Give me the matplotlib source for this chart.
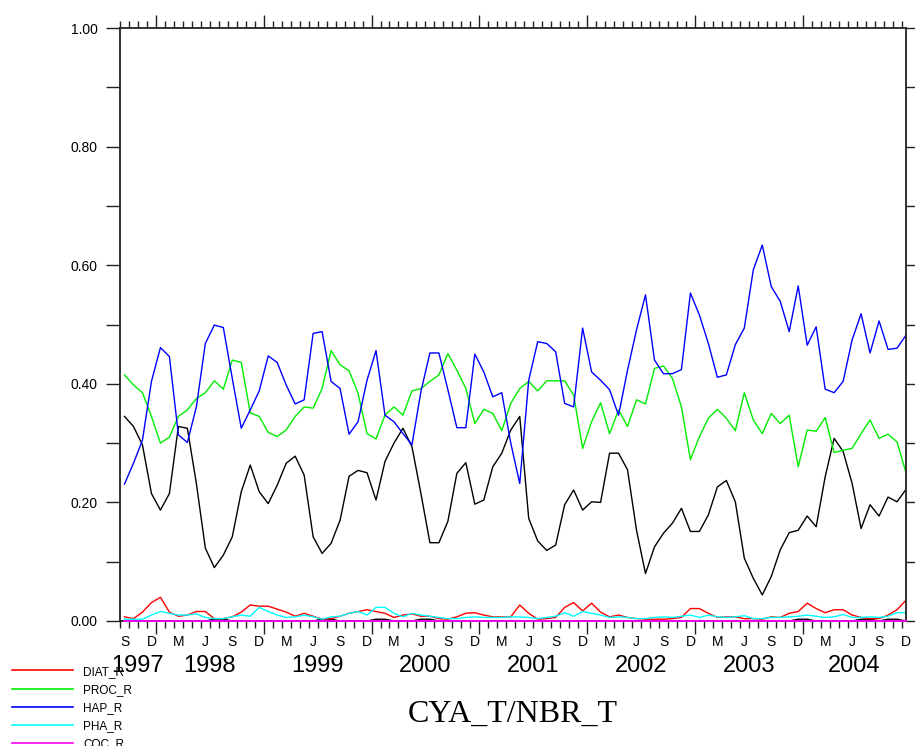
import matplotlib
matplotlib.use("Agg")
import matplotlib.pyplot as plt
from matplotlib.lines import Line2D
from matplotlib.ticker import FixedLocator, NullFormatter, FormatStrFormatter

# months: index 0 = Sep 1997 ... index 87 = Dec 2004 (monthly, mid-month)
month_letters = ["S", "D", "M", "J"]
years = ["1997", "1998", "1999", "2000", "2001", "2002", "2003", "2004"]

black_main = [0.345, 0.328, 0.297, 0.215, 0.187, 0.215, 0.328, 0.325, 0.232, 0.123,
              0.090, 0.111, 0.142, 0.218, 0.263, 0.218, 0.198, 0.229, 0.266, 0.278,
              0.246, 0.142, 0.114, 0.131, 0.170, 0.244, 0.254, 0.250, 0.204, 0.269,
              0.300, 0.325, 0.294, 0.215, 0.132, 0.132, 0.168, 0.249, 0.267, 0.197,
              0.204, 0.260, 0.283, 0.322, 0.345, 0.173, 0.135, 0.119, 0.128, 0.196,
              0.221, 0.187, 0.201, 0.200, 0.283, 0.283, 0.255, 0.153,
              0.080, 0.125, 0.148, 0.165, 0.190, 0.151, 0.151, 0.179, 0.226, 0.237,
              0.201, 0.106, 0.072, 0.044, 0.075, 0.120, 0.149, 0.153, 0.177, 0.159,
              0.243, 0.308, 0.286, 0.232, 0.156, 0.196, 0.177, 0.209, 0.201, 0.222]

diat_r = [0.007, 0.004, 0.015, 0.031, 0.040, 0.015, 0.008, 0.010, 0.016, 0.016,
          0.004, 0.004, 0.007, 0.015, 0.027, 0.025, 0.025, 0.020, 0.015, 0.008,
          0.013, 0.008, 0.003, 0.004, 0.008, 0.013, 0.016, 0.019, 0.016, 0.013,
          0.006, 0.010, 0.012, 0.008, 0.008, 0.004, 0.003, 0.007, 0.013, 0.014,
          0.010, 0.007, 0.007, 0.007, 0.027, 0.013, 0.003, 0.004, 0.006, 0.023,
          0.031, 0.017, 0.030, 0.015, 0.007, 0.010, 0.006, 0.004,
          0.003, 0.003, 0.003, 0.004, 0.006, 0.021, 0.021, 0.013, 0.006, 0.007,
          0.007, 0.004, 0.004, 0.003, 0.007, 0.006, 0.013, 0.016, 0.030, 0.021,
          0.014, 0.019, 0.019, 0.010, 0.006, 0.004, 0.004, 0.010, 0.019, 0.035]

proc_r = [0.415, 0.398, 0.385, 0.345, 0.300, 0.310, 0.345, 0.356, 0.375, 0.385,
          0.405, 0.391, 0.440, 0.436, 0.351, 0.345, 0.318, 0.311, 0.322, 0.345,
          0.361, 0.359, 0.392, 0.456, 0.432, 0.422, 0.384, 0.316, 0.307, 0.347,
          0.361, 0.347, 0.388, 0.392, 0.404, 0.415, 0.451, 0.423, 0.392, 0.333,
          0.357, 0.350, 0.321, 0.367, 0.392, 0.404, 0.388, 0.405, 0.405, 0.405,
          0.381, 0.291, 0.336, 0.368, 0.316, 0.356, 0.328, 0.373,
          0.366, 0.426, 0.430, 0.409, 0.361, 0.272, 0.311, 0.342, 0.357, 0.342,
          0.321, 0.385, 0.339, 0.316, 0.350, 0.333, 0.347, 0.260, 0.322, 0.320,
          0.343, 0.284, 0.288, 0.291, 0.316, 0.339, 0.308, 0.315, 0.302, 0.250]

hap_r = [0.231, 0.266, 0.305, 0.404, 0.461, 0.446, 0.314, 0.301, 0.361, 0.468,
         0.499, 0.495, 0.409, 0.325, 0.356, 0.388, 0.447, 0.436, 0.398, 0.366,
         0.373, 0.485, 0.488, 0.404, 0.392, 0.315, 0.336, 0.406, 0.456, 0.347,
         0.336, 0.316, 0.297, 0.387, 0.452, 0.452, 0.390, 0.326, 0.326, 0.450,
         0.420, 0.378, 0.385, 0.300, 0.232, 0.406, 0.471, 0.468, 0.454, 0.367,
         0.361, 0.494, 0.420, 0.406, 0.390, 0.347, 0.423, 0.491,
         0.550, 0.440, 0.417, 0.417, 0.424, 0.553, 0.516, 0.468, 0.411, 0.415,
         0.466, 0.494, 0.592, 0.634, 0.564, 0.539, 0.488, 0.565, 0.465, 0.496,
         0.391, 0.385, 0.404, 0.474, 0.518, 0.452, 0.506, 0.458, 0.460, 0.482]

pha_r = [0.003, 0.003, 0.003, 0.010, 0.016, 0.013, 0.010, 0.010, 0.012, 0.006,
         0.004, 0.004, 0.007, 0.010, 0.008, 0.023, 0.016, 0.010, 0.006, 0.007,
         0.010, 0.007, 0.003, 0.007, 0.008, 0.013, 0.016, 0.010, 0.023, 0.023,
         0.013, 0.007, 0.013, 0.010, 0.008, 0.006, 0.004, 0.004, 0.006, 0.007,
         0.006, 0.006, 0.006, 0.007, 0.007, 0.006, 0.004, 0.006, 0.008, 0.014,
         0.008, 0.016, 0.013, 0.010, 0.006, 0.007, 0.006, 0.004,
         0.004, 0.006, 0.007, 0.006, 0.008, 0.010, 0.006, 0.010, 0.007, 0.006,
         0.007, 0.009, 0.004, 0.004, 0.006, 0.006, 0.007, 0.008, 0.010, 0.008,
         0.006, 0.007, 0.011, 0.006, 0.006, 0.007, 0.006, 0.008, 0.014, 0.014]

coc_r = [0.0, 0.0, 0.0, 0.0, 0.0, 0.0, 0.0, 0.0, 0.0, 0.0, 0.0,
         0.0, 0.0, 0.0, 0.0, 0.0, 0.0, 0.0, 0.0, 0.0, 0.0, 0.0,
         0.0, 0.0, 0.0, 0.0, 0.0, 0.0, 0.0, 0.0, 0.0, 0.0, 0.0,
         0.0, 0.0, 0.0, 0.0, 0.0, 0.0, 0.0, 0.0, 0.0, 0.0, 0.0,
         0.0, 0.0, 0.0, 0.0, 0.0, 0.0, 0.0, 0.0, 0.0, 0.0, 0.0,
         0.0, 0.0, 0.0, 0.0, 0.0, 0.0, 0.0, 0.0, 0.0, 0.0, 0.0,
         0.0, 0.0, 0.0, 0.0, 0.0, 0.0, 0.0, 0.0, 0.0, 0.0, 0.0,
         0.0, 0.0, 0.0, 0.0, 0.0, 0.0, 0.0, 0.0, 0.0, 0.0, 0.0]

black_small = [0.0, 0.0, 0.0, 0.0, 0.0, 0.0, 0.0, 0.0, 0.0, 0.0, 0.003,
               0.003, 0.0, 0.0, 0.0, 0.0, 0.0, 0.0, 0.0, 0.0, 0.0, 0.0,
               0.003, 0.003, 0.0, 0.0, 0.0, 0.0, 0.003, 0.003, 0.0, 0.0, 0.0,
               0.003, 0.003, 0.0, 0.0, 0.0, 0.0, 0.0, 0.0, 0.0, 0.0, 0.0,
               0.0, 0.0, 0.0, 0.0, 0.0, 0.0, 0.0, 0.0, 0.0, 0.0, 0.0,
               0.0, 0.0, 0.0, 0.0, 0.0, 0.0, 0.0, 0.0, 0.0, 0.0, 0.0,
               0.0, 0.0, 0.0, 0.0, 0.0, 0.0, 0.0, 0.0, 0.0, 0.003, 0.003,
               0.0, 0.0, 0.0, 0.0, 0.0, 0.003, 0.003, 0.0, 0.003, 0.003, 0.0]

legend_names = ["DIAT_R", "PROC_R", "HAP_R", "PHA_R", "COC_R"]
legend_colors = ["#ff0000", "#00ee00", "#0000ff", "#00ffff", "#ff00ff"]

n = len(hap_r)
x = [i + 0.5 for i in range(n)]  # month midpoints; 0 = 1 Sep 1997

W, H = 915, 746
fig = plt.figure(figsize=(W / 100, H / 100), dpi=100)
ax_left, ax_right, ax_top, ax_bot = 120, 906, 28, 621
ax = fig.add_axes([ax_left / W, 1 - ax_bot / H, (ax_right - ax_left) / W, (ax_bot - ax_top) / H])

lw = 1.0
ax.plot(x, black_main, color="black", lw=lw)
ax.plot(x, black_small, color="black", lw=lw)
ax.plot(x, diat_r, color=legend_colors[0], lw=lw)
ax.plot(x, proc_r, color=legend_colors[1], lw=lw)
ax.plot(x, hap_r, color=legend_colors[2], lw=lw)
ax.plot(x, pha_r, color=legend_colors[3], lw=lw)
ax.plot(x, coc_r, color=legend_colors[4], lw=1.3, clip_on=False, zorder=5)

ax.set_xlim(0, n - 0.5)
ax.set_ylim(0, 1.0)

for s in ax.spines.values():
    s.set_linewidth(1.3)
    s.set_color("#222222")

# y ticks
ax.yaxis.set_major_locator(FixedLocator([0.0, 0.2, 0.4, 0.6, 0.8, 1.0]))
ax.yaxis.set_minor_locator(FixedLocator([0.1, 0.3, 0.5, 0.7, 0.9]))
ax.yaxis.set_major_formatter(FormatStrFormatter("%.2f"))
ax.tick_params(axis="y", which="both", direction="out", length=10, width=1.0,
               left=True, right=True, labelleft=True, labelright=False, pad=6,
               color="#222222")
for lab in ax.get_yticklabels():
    lab.set_fontfamily("Liberation Sans")
    lab.set_fontsize(10)

# x ticks: month boundaries, long at January
boundaries = list(range(0, n))
jan = [b for b in boundaries if (b + 8) % 12 == 0]
minor = [b for b in boundaries if b not in jan]
ax.xaxis.set_major_locator(FixedLocator(jan))
ax.xaxis.set_minor_locator(FixedLocator(minor))
ax.xaxis.set_major_formatter(NullFormatter())
ax.xaxis.set_minor_formatter(NullFormatter())
ax.tick_params(axis="x", which="major", direction="out", length=9.5, width=1.0,
               top=True, bottom=True, color="#222222")
ax.tick_params(axis="x", which="minor", direction="out", length=5, width=1.0,
               top=True, bottom=True, color="#222222")

trans = ax.get_xaxis_transform()
h_ax = ax_bot - ax_top
for k in range(0, n, 3):
    ax.text(k + 0.5, -21.5 / h_ax, month_letters[(k // 3) % 4], transform=trans,
            ha="center", va="center", fontsize=10, family="Liberation Sans",
            clip_on=False)

# year labels centered over visible part of each year
starts = [0] + jan
ends = jan + [n - 0.5]
for yr, s0, e0 in zip(years, starts, ends):
    ax.text((s0 + e0) / 2, -45 / h_ax, yr, transform=trans, ha="center", va="center",
            fontsize=17, family="Liberation Sans", clip_on=False)

# title-like label at bottom
fig.text(513 / W, 1 - 722 / H, "CYA_T/NBR_T", ha="center", va="baseline",
         fontsize=23, family="Liberation Serif")

# legend at bottom-left
row_y = [670, 688.5, 706.5, 724.5, 742.5]
for name, col, yy in zip(legend_names, legend_colors, row_y):
    fig.add_artist(Line2D([12 / W, 73 / W], [1 - yy / H, 1 - yy / H],
                          transform=fig.transFigure, color=col, lw=1.2))
    fig.text(83 / W, 1 - (yy + 2) / H, name, ha="left", va="center",
             fontsize=8.5, family="Liberation Sans")

fig.savefig("out.png", dpi=100)
